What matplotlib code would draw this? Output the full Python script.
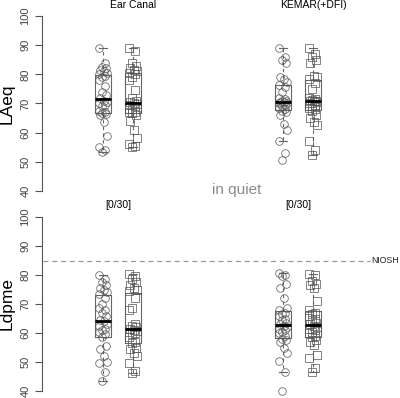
import numpy as np
import matplotlib.pyplot as plt

plt.rcParams['font.family'] = ['Liberation Sans', 'DejaVu Sans']

# LAeq (top), values in dB
laeq_ear_circ = [89, 84, 82.5, 82, 81.5, 81, 80.5, 80, 79.5, 79, 78, 76, 74, 73, 72,
                 71, 70.5, 70, 69.5, 69, 67.5, 67, 66.8, 66.5, 66.2, 63.5, 59, 55, 54, 53.5]
laeq_ear_sq = [89, 88, 84, 83, 82, 81.5, 81, 80.5, 80, 79, 78, 74.5, 72, 71, 70.5,
               70, 69.8, 69.5, 69, 68, 67.2, 67, 66.8, 66, 64, 61, 58, 56, 55.5, 55]
laeq_kem_circ = [89, 86, 85, 84, 79, 78.5, 77.5, 76.5, 75.5, 74, 72, 71.5, 71, 70.8, 70.6,
                 70.4, 70.2, 70, 69.5, 69, 68.5, 68, 67.5, 67.2, 66, 63, 61, 57, 53, 50.6]
laeq_kem_sq = [89, 87, 86, 85, 84, 79.5, 79, 78.5, 77, 75, 72, 71.5, 71.2, 71, 70.9,
               70.8, 70.5, 70, 69.5, 69, 68.5, 68, 67.5, 66, 65, 63.5, 62.5, 57, 54, 52.3]

# Ldpme (bottom)
ldp_ear_circ = [80, 78.5, 77.5, 76.5, 75.5, 75, 74, 73.5, 72, 70, 68.5, 68, 67, 66, 64.5,
                64, 63, 62.5, 61.5, 61, 60.5, 59.5, 58.5, 55.5, 54.5, 52, 50, 49.5, 46.5, 43.3]
ldp_ear_sq = [80.3, 79.5, 78.5, 77.5, 76.5, 75.5, 75, 74.5, 72, 68.5, 68, 63, 62.5, 62, 61.5,
              61, 60.8, 60.5, 60, 59.5, 58.5, 57, 56.5, 55, 54.5, 53, 52, 49.5, 47, 46.2]
ldp_kem_circ = [80.7, 80, 79.5, 77, 75.5, 72, 68.5, 68, 67, 66.5, 66, 65, 64.5, 63.5, 63,
                62.5, 62, 61.5, 61, 60.5, 60, 59, 58, 57.5, 57, 55, 53, 50.5, 46.6, 40.1]
ldp_kem_sq = [80.5, 80, 78, 77, 76.5, 75.5, 71, 68, 67, 66.5, 66, 65, 64.5, 63.5, 63,
              62.5, 62, 61.5, 61, 60.5, 60, 59, 58.5, 57.5, 57, 56, 52.5, 51.5, 48, 46.6]

groups = ['Ear Canal', 'KEMAR(+DFI)']
counts = ['[0/30]', '[0/30]']
niosh = 85

positions = [2, 3, 8, 9]
markers = ['o', 's', 'o', 's']
# fixed horizontal spread for the points
spread = [-0.12, 0.06, -0.04, 0.11, -0.09, 0.02, 0.13, -0.14, 0.08, -0.02]

edge = '#555555'


def draw_panel(ax, data, ylabel):
    ax.boxplot(data, positions=positions, widths=0.52, showfliers=False,
               medianprops=dict(color='black', linewidth=2),
               boxprops=dict(color='#666666', linewidth=0.8),
               whiskerprops=dict(color='#666666', linewidth=0.8, linestyle=(0, (3, 3))),
               capprops=dict(color='#666666', linewidth=0.8),
               whis=1.5)
    for vals, pos, mk in zip(data, positions, markers):
        xs = [pos + spread[i % len(spread)] for i in range(len(vals))]
        ax.plot(xs, vals, linestyle='none', marker=mk, markersize=5.5,
                markerfacecolor='none', markeredgecolor=edge,
                markeredgewidth=0.6, alpha=0.85, clip_on=False)
    ax.set_xlim(0, 11.9)
    ax.set_ylim(40, 100)
    ax.set_yticks(np.arange(40, 101, 10))
    ax.set_xticks([])
    for s in ['top', 'right', 'bottom']:
        ax.spines[s].set_visible(False)
    ax.spines['left'].set_color('#555555')
    ax.spines['left'].set_position(('outward', 1))
    ax.tick_params(axis='y', length=5, width=0.8, color='#555555',
                   labelsize=8, labelcolor='#444444', pad=3)
    for lab in ax.get_yticklabels():
        lab.set_rotation(90)
        lab.set_va('center')
    ax.set_ylabel(ylabel, fontsize=12.5, labelpad=4)
    ax.patch.set_alpha(0)


fig = plt.figure(figsize=(4, 3.98), dpi=100)
ax1 = fig.add_axes([0.1075, 1 - 191 / 398, 0.8925, 175 / 398])
ax2 = fig.add_axes([0.1075, 1 - 391 / 398, 0.8925, 174 / 398])

draw_panel(ax1, [laeq_ear_circ, laeq_ear_sq, laeq_kem_circ, laeq_kem_sq], 'LAeq')
draw_panel(ax2, [ldp_ear_circ, ldp_ear_sq, ldp_kem_circ, ldp_kem_sq], 'Ldpme')

ax1.text(3, 103.8, groups[0], ha='center', va='center', fontsize=7.5, clip_on=False)
ax1.text(9, 103.8, groups[1], ha='center', va='center', fontsize=7.5, clip_on=False)

ax2.text(2.5, 104.1, counts[0], ha='center', va='center', fontsize=7.5, clip_on=False)
ax2.text(8.5, 104.1, counts[1], ha='center', va='center', fontsize=7.5, clip_on=False)

ax2.plot([0, 10.9], [niosh, niosh], color='#999999', linewidth=0.9,
         linestyle=(0, (4, 3)), clip_on=False)
ax2.text(10.95, niosh, 'NIOSH', ha='left', va='center', fontsize=6.3, color='#222222')

fig.text(237 / 400, 1 - 190 / 398, 'in quiet', ha='center', va='center',
         fontsize=11, color='#8a8a8a')

fig.savefig('out.png', dpi=100)
